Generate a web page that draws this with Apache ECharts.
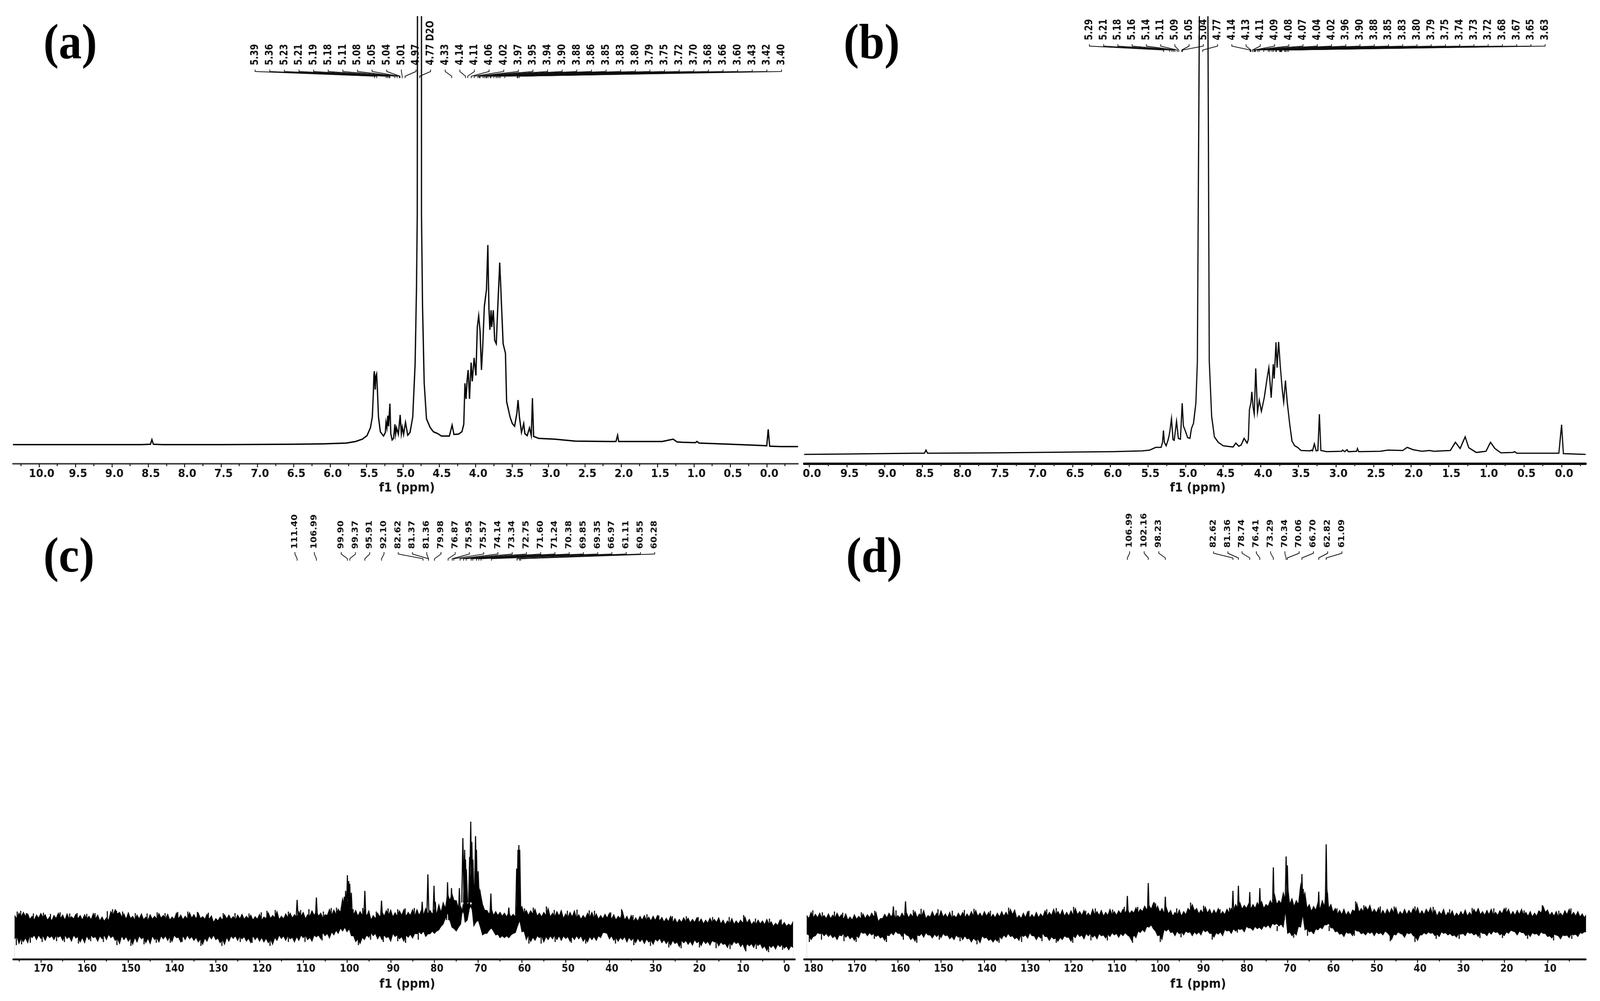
<!DOCTYPE html>
<html>
<head>
<meta charset="utf-8">
<style>html,body{margin:0;padding:0;background:#fff;overflow:hidden;width:100%;height:100%}#chart{width:4459px;height:2562px;transform-origin:0 0}</style>
<script src="https://cdn.jsdelivr.net/npm/echarts@6/dist/echarts.min.js"></script>
</head>
<body>
<div id="chart"></div>
<script>
// ---------- values (ppm, intensity) ----------
const aSpectrum = [[10.36,49],[9.5,49],[8.6,49],[8.47,50],[8.45,62],[8.43,50],[8.3,49],[7.5,49],[6.5,50],[6.09,51],[5.777,53],[5.651,57],[5.557,63],[5.494,72],[5.447,92],[5.421,120],[5.406,182],[5.399,226],[5.393,237],[5.381,190],[5.374,223],[5.362,230],[5.349,182],[5.336,120],[5.311,82],[5.267,71],[5.242,80],[5.233,106],[5.22,92],[5.208,123],[5.198,96],[5.179,154],[5.167,77],[5.148,61],[5.129,65],[5.11,101],[5.101,75],[5.088,92],[5.063,75],[5.038,125],[5.022,77],[5.009,94],[4.991,75],[4.965,106],[4.934,73],[4.903,80],[4.865,120],[4.833,254],[4.814,446],[4.803,637],[4.8,1200],[4.745,1200],[4.745,637],[4.73,398],[4.708,206],[4.676,115],[4.629,94],[4.582,82],[4.519,77],[4.472,71],[4.362,71],[4.324,99],[4.299,75],[4.236,76],[4.189,82],[4.164,101],[4.148,206],[4.132,166],[4.119,211],[4.104,240],[4.085,166],[4.063,259],[4.047,211],[4.022,271],[3.997,226],[3.978,350],[3.959,379],[3.94,340],[3.921,240],[3.903,302],[3.881,403],[3.852,446],[3.833,560],[3.818,398],[3.805,343],[3.789,393],[3.78,350],[3.758,393],[3.739,316],[3.717,307],[3.695,407],[3.67,515],[3.654,446],[3.623,307],[3.591,283],[3.575,159],[3.528,120],[3.497,103],[3.465,96],[3.434,130],[3.418,163],[3.399,120],[3.371,80],[3.34,103],[3.324,77],[3.292,72],[3.261,92],[3.236,72],[3.22,168],[3.204,70],[3.135,65],[2.915,63],[2.632,58],[2.15,57],[2.072,57],[2.05,73],[2.035,57],[1.437,57],[1.286,63],[1.233,56],[1.16,55],[0.98,54],[0.96,57],[0.93,53],[0.5,50],[0.1,47],[0.0,46],[-0.02,88],[-0.04,45],[-0.2,44],[-0.43,44]];

const bSpectrum = [[10.07,24],[9.5,25],[8.6,27],[8.47,27],[8.45,35],[8.43,27],[7.5,28],[7,29],[6.5,30],[5.969,31],[5.574,33],[5.475,35],[5.396,42],[5.324,42],[5.305,55],[5.293,85],[5.281,55],[5.257,46],[5.233,60],[5.218,72],[5.206,86],[5.186,116],[5.166,62],[5.15,60],[5.119,109],[5.095,65],[5.067,63],[5.044,155],[5.028,97],[5.0,83],[4.972,67],[4.941,65],[4.921,90],[4.893,104],[4.862,156],[4.842,262],[4.814,1200],[4.703,1200],[4.684,262],[4.652,121],[4.616,69],[4.565,55],[4.498,46],[4.367,43],[4.331,53],[4.292,45],[4.26,48],[4.221,65],[4.181,53],[4.165,62],[4.15,139],[4.13,156],[4.118,184],[4.102,146],[4.086,127],[4.066,244],[4.043,132],[4.019,163],[3.991,134],[3.952,170],[3.92,213],[3.892,246],[3.881,220],[3.861,169],[3.833,255],[3.821,218],[3.797,311],[3.782,246],[3.762,312],[3.742,255],[3.714,191],[3.695,158],[3.671,213],[3.647,156],[3.616,104],[3.584,58],[3.548,46],[3.509,42],[3.465,34],[3.339,33],[3.327,35],[3.311,33],[3.287,51],[3.263,33],[3.24,34],[3.22,127],[3.2,34],[3.121,31],[2.923,32],[2.911,35],[2.884,31],[2.852,36],[2.836,31],[2.725,32],[2.714,39],[2.698,31],[2.409,32],[2.31,35],[2.112,34],[2.053,42],[1.974,36],[1.855,32],[1.756,34],[1.697,32],[1.479,34],[1.412,55],[1.349,39],[1.282,69],[1.234,41],[1.135,29],[1.005,32],[0.945,55],[0.886,39],[0.807,28],[0.649,29],[0.621,31],[0.597,27],[0.036,27],[0.0,100],[-0.024,26],[-0.32,24]];

const cStartPpm = 176;
const cTop = [112,118,120,116,110,113,117,114,108,112,
118,113,116,109,115,112,114,110,117,113,
108,106,122,127,120,116,119,110,113,116,
108,114,110,117,112,115,108,118,113,110,
119,114,118,109,115,111,104,108,114,113,
109,113,115,110,113,109,115,108,119,112,
122,110,116,118,114,122,120,114,124,122,
118,114,128,126,128,155,150,128,125,122,
128,124,112,118,122,125,126,119,124,127,
120,127,127,125,130,125,128,140,145,168,
168,150,135,175,145,190,190,140,125,130,
122,120,118,120,115,145,135,125,124,128,
118,120,130,118,122,125,116,120,124,114,
112,118,120,116,112,115,118,114,110,122,
110,112,106,110,112,108,110,112,107,105,
110,104,102,106,105,102,106,103,100,105,
102,106,100,98,104,98,100,108,102,96,
100,98,102,96,92,100,94,90,96];
const cTopMid = [104,108,110,102,100,105,106,100,98,104,
104,100,102,103,104,100,102,101,103,98,
97,99,112,116,108,102,104,100,103,101,
100,102,103,105,103,100,102,104,101,103,
105,103,104,102,102,94,98,100,103,102,
100,103,102,103,100,102,100,104,104,106,
101,103,106,105,106,110,103,110,112,110,
104,112,112,114,120,130,125,114,110,112,
110,100,104,108,110,112,108,110,112,110,
112,110,112,114,116,115,115,120,130,150,
150,130,120,140,130,150,170,125,115,112,
112,110,108,108,108,125,115,112,115,110,
108,112,108,108,110,104,106,108,104,102,
104,106,104,102,103,105,102,100,104,100,
98,96,97,100,99,98,99,98,95,96,
94,92,94,95,93,94,94,90,92,93,
94,90,88,90,89,90,92,92,88,88,
90,88,88,84,86,86,84,85];
const cBottom = [52,40,45,42,55,50,53,48,55,50,
56,48,53,46,54,44,42,50,55,46,
52,50,55,48,40,50,46,38,44,52,
42,40,50,44,52,48,45,55,44,50,
52,48,44,38,46,52,50,42,38,46,
53,48,52,46,42,50,46,44,42,38,
48,53,48,52,44,48,55,50,46,57,
52,60,54,62,66,72,70,60,45,40,
50,56,60,52,50,55,46,58,52,46,
56,54,65,65,58,65,66,75,90,120,
82,72,90,95,130,85,100,62,66,80,
62,55,55,55,66,85,70,50,45,48,
55,44,50,52,50,48,53,46,50,52,
46,44,50,48,55,68,52,48,46,50,
44,48,42,45,40,44,38,46,42,40,
36,40,32,42,38,36,42,35,40,36,
44,34,38,30,36,40,32,25,34,30,
35,28,22,30,26,32,28,24,30];
const cBottomMid = [60,55,55,62,62,62,60,62,60,62,
60,62,58,62,58,56,60,62,58,60,
62,64,60,54,60,58,54,56,60,56,
54,60,56,60,60,58,62,56,60,62,
58,56,52,54,60,62,54,52,56,60,
60,60,58,54,60,58,56,54,52,56,
62,60,62,56,58,62,62,56,62,62,
68,66,70,74,80,82,78,60,52,56,
62,68,66,62,62,58,66,62,58,62,
64,66,70,72,65,72,72,84,105,100,
78,82,137,100,140,95,82,66,74,72,
64,60,60,62,68,100,72,62,56,60,
60,58,60,62,60,60,58,58,60,60,
54,58,58,60,68,66,60,56,56,58,
56,54,54,52,52,50,52,54,50,48,
48,44,48,48,46,50,46,48,46,48,
46,44,40,44,46,44,40,40,40,44,
40,34,36,36,38,38,34,34];
const cSpikes = [[111.4,152],[106.99,158],[100.6,160],[100.3,175],[99.9,215],[99.6,200],[99.37,193],[99,170],[95.91,175],[92.1,150],[82.8,147],[81.5,217],[80.1,188],[79.8,147],[77,197],[76.1,182],[74.3,182],[73.5,310,145],[73.1,280,145],[72.9,255,145],[72.7,230,145],[71.95,262,145],[71.7,352,145],[71.45,300,145],[71.2,255,145],[70.6,315,145],[70.4,280,145],[70,225,145],[69.6,178,130],[67.1,168],[63,132],[61.2,232],[60.9,280],[60.7,292],[60.5,280]];
const cUpWhiskers = [[175.4,122],[174.6,124],[173.3,118],[171.7,117],[169.4,119],[167.8,116],[165.6,120],[163.4,117],[161.7,118],[159.5,116],[157.6,118],[154.8,123],[153.6,128],[152.7,124],[151.3,122],[148.4,118],[145.7,117],[143.4,120],[141.6,118],[138.7,121],[136.4,122],[134.2,121],[131.7,119],[128.3,118],[125.6,118],[122.4,117],[119.6,120],[118.3,124],[116.4,126],[113.4,122],[110.6,126],[108.7,128],[105.4,122],[103.6,131],[102.4,132],[98.6,128],[96.4,131],[93.3,122],[90.6,130],[88.4,128],[86.7,130],[84.6,131],[59.4,130],[57.4,132],[54.4,135],[52.6,126],[49.6,124],[47.4,127],[44.6,125],[43.4,124],[39.7,120],[37.2,128],[34.6,113],[31.4,115],[28.7,112],[25.6,110],[22.4,110],[19.7,108],[16.4,108],[12.6,108],[9.3,113],[6.6,104],[3.4,104],[0.7,102]];
const cDownWhiskers = [[175.6,36],[174.4,38],[172.4,42],[169.7,44],[166.4,46],[164.6,44],[161.4,40],[158.6,46],[155.7,44],[152.6,36],[149.4,34],[146.4,38],[143.6,42],[140.4,42],[137.7,44],[133.4,34],[128.6,34],[124.4,44],[121.7,42],[117.6,34],[113.4,44],[109.6,44],[105.7,48],[97.4,36],[94.6,50],[91.7,44],[88.4,46],[86.6,42],[83.7,50],[58.4,40],[55.6,40],[52.4,44],[48.7,42],[45.4,40],[38.6,40],[34.4,36],[30.6,34],[26.4,30],[23.6,28],[19.4,30],[15.6,28],[12.4,26],[8.8,20],[6.4,26],[3.6,18],[0.4,24]];

const dStartPpm = 181;
const dTop = [112,120,115,118,112,116,113,118,114,116,
108,114,110,116,114,118,120,104,115,118,
120,112,118,120,116,122,116,125,112,122,
118,124,116,120,112,118,120,116,122,125,
118,122,120,115,118,122,120,128,126,112,
118,122,114,120,116,124,120,128,122,126,
120,124,130,122,125,118,128,122,125,120,
128,122,124,128,130,124,132,128,136,138,
143,136,130,132,125,120,126,122,130,140,
130,126,134,128,126,130,122,128,130,140,
145,138,142,140,145,148,140,150,165,150,
170,190,155,150,190,170,140,135,145,150,
190,140,130,125,128,122,126,143,130,135,
138,128,132,125,128,130,132,122,128,125,
130,132,124,128,132,126,122,128,120,124,
118,122,126,120,128,130,122,125,128,120,
124,130,128,122,125,128,120,122,118,124,
135,126,120,122,118,124,128,120,122,116,
115];
const dTopMid = [104,106,106,104,104,104,104,106,102,100,
100,102,103,104,106,108,96,104,106,108,
104,106,108,106,108,106,110,104,108,108,
108,108,106,104,106,108,106,108,110,110,
108,110,106,106,108,110,110,114,104,104,
106,106,106,106,108,110,112,112,112,110,
110,112,114,112,110,110,112,112,110,112,
112,112,116,118,116,118,118,122,126,128,
124,120,118,116,110,112,110,114,124,124,
116,118,118,114,116,114,114,118,124,130,
128,130,128,130,134,130,135,140,140,142,
150,140,135,140,150,130,122,125,128,135,
130,120,115,114,112,112,122,120,122,125,
118,118,114,114,116,118,112,114,114,116,
118,114,114,118,114,110,114,110,112,108,
110,112,110,112,118,114,112,114,112,112,
116,118,112,112,114,112,110,108,110,118,
120,112,110,108,110,114,112,110,108,106];
const dBottom = [65,50,60,65,60,58,55,50,60,56,
52,48,55,66,60,62,58,54,48,60,
62,66,58,62,50,46,60,56,62,54,
58,55,60,52,50,56,50,52,44,48,
42,54,48,44,46,52,56,58,52,48,
58,54,60,50,54,58,48,52,46,50,
56,46,55,58,52,60,56,52,60,54,
58,62,56,60,62,48,55,68,70,82,
78,60,50,72,68,60,65,62,68,60,
64,62,70,66,56,64,60,72,66,72,
76,70,80,74,78,76,82,80,88,85,
82,66,60,62,82,75,70,65,75,78,
88,80,70,64,58,66,60,72,65,62,
66,60,65,62,68,50,62,66,56,65,
60,48,62,64,66,60,58,66,62,60,
56,64,60,66,62,58,66,60,64,68,
62,60,66,72,62,68,60,58,64,60,
66,58,54,62,52,60,55,62,58,66,
70];
const dBottomMid = [62,58,68,68,66,64,60,62,66,62,
58,60,70,68,68,66,62,58,62,68,
72,66,68,60,56,62,66,68,62,64,
64,66,62,58,62,60,60,54,54,52,
60,56,52,52,58,62,66,60,56,64,
62,68,60,60,66,58,58,54,56,60,
56,60,66,62,66,66,62,66,62,64,
68,66,66,68,58,62,72,76,84,88,
72,62,76,78,70,72,70,72,70,70,
70,76,74,66,68,70,76,74,78,78,
78,84,80,84,82,86,88,92,92,90,
125,70,68,84,115,78,72,78,82,88,
92,80,72,66,70,68,76,72,68,70,
70,70,68,72,62,64,70,64,68,68,
58,62,68,70,68,64,70,68,66,62,
66,66,70,68,66,70,66,70,72,70,
66,70,74,70,72,68,66,68,66,70,
66,60,64,60,62,62,66,64,68,70];
const dSpikes = [[161,135],[158.2,148],[106.99,162],[102.16,195],[100.5,143],[98.23,160],[82.62,175],[81.36,188],[78.74,172],[76.41,182],[73.29,235],[71,163],[70.34,263,130],[70.06,240,130],[66.7,218,125],[66.4,180,125],[62.82,173],[61.09,294],[60.8,170]];
const dUpWhiskers = [[179.6,125],[177.4,120],[174.6,122],[172.7,119],[168.4,120],[165.3,124],[160.4,125],[156.4,126],[154.6,129],[150.7,128],[147.4,124],[144.6,126],[142.4,129],[138.6,124],[134.4,132],[129.7,124],[125.6,128],[123.4,131],[119.4,134],[116.6,124],[114.4,130],[110.4,127],[107.7,134],[104.6,134],[100.8,146],[95.6,130],[92.4,145],[89.4,137],[85.6,128],[83.4,132],[58.6,130],[54.3,148],[52.4,138],[48.6,135],[45.4,135],[40.6,135],[36.4,134],[32.6,128],[27.4,131],[22.4,130],[19.6,132],[15.4,125],[11.2,138],[7.4,124],[4.6,130]];
const dDownWhiskers = [[180.4,44],[177.6,50],[172.4,46],[169.6,44],[165.4,52],[162.6,44],[158.7,50],[155.6,42],[150.4,50],[145.6,46],[141.7,38],[136.6,42],[131.4,44],[126.7,46],[123.4,42],[119.6,42],[115.4,48],[111.6,48],[105.8,42],[99.4,44],[94.6,56],[87.4,50],[81.6,68],[72.4,72],[68.6,55],[65.4,60],[60.4,72],[54.6,60],[46.3,46],[40.6,44],[35.7,52],[30.4,52],[25.6,54],[20.4,54],[14.6,52],[8.6,48],[4.4,52]];

const aPeakLabels = ['5.39','5.36','5.23','5.21','5.19','5.18','5.11','5.08','5.05','5.04','5.01','4.97','4.77 D2O','4.33','4.14','4.11','4.06','4.02','3.97','3.95','3.94','3.90','3.88','3.86','3.85','3.83','3.80','3.79','3.75','3.72','3.70','3.68','3.66','3.60','3.43','3.42','3.40'];
const bPeakLabels = ['5.29','5.21','5.18','5.16','5.14','5.11','5.09','5.05','5.04','4.77','4.14','4.13','4.11','4.09','4.08','4.07','4.04','4.02','3.96','3.90','3.88','3.85','3.83','3.80','3.79','3.75','3.74','3.73','3.72','3.68','3.67','3.65','3.63'];
const cPeakLabels = ['111.40','106.99','99.90','99.37','95.91','92.10','82.62','81.37','81.36','79.98','76.87','75.95','75.57','74.14','73.34','72.75','71.60','71.24','70.38','69.85','69.35','66.97','61.11','60.55','60.28'];
const dPeakLabels = ['106.99','102.16','98.23','82.62','81.36','78.74','76.41','73.29','70.34','70.06','66.70','62.82','61.09'];

const aTickValues = [10,9.5,9,8.5,8,7.5,7,6.5,6,5.5,5,4.5,4,3.5,3,2.5,2,1.5,1,0.5,0];
const aMinorTicks = [10.25,9.75,9.25,8.75,8.25,7.75,7.25,6.75,6.25,5.75,5.25,4.75,4.25,3.75,3.25,2.75,2.25,1.75,1.25,0.75,0.25,-0.25];
const aTickLabels = ['10.0','9.5','9.0','8.5','8.0','7.5','7.0','6.5','6.0','5.5','5.0','4.5','4.0','3.5','3.0','2.5','2.0','1.5','1.0','0.5','0.0'];
const bTickLabels = ['0.0','9.5','9.0','8.5','8.0','7.5','7.0','6.5','6.0','5.5','5.0','4.5','4.0','3.5','3.0','2.5','2.0','1.5','1.0','0.5','0.0'];
const cTickValues = [170,160,150,140,130,120,110,100,90,80,70,60,50,40,30,20,10,0];
const cMinorTicks = [175,165,155,145,135,125,115,105,95,85,75,65,55,45,35,25,15,5];
const cTickLabels = ['170','160','150','140','130','120','110','100','90','80','70','60','50','40','30','20','10','0'];
const dTickValues = [180,170,160,150,140,130,120,110,100,90,80,70,60,50,40,30,20,10];
const dMinorTicks = [175,165,155,145,135,125,115,105,95,85,75,65,55,45,35,25,15,5];
const dTickLabels = ['180','170','160','150','140','130','120','110','100','90','80','70','60','50','40','30','20','10'];
const panelLetters = ['(a)','(b)','(c)','(d)'];
const axisTitle = 'f1 (ppm)';

// ---------- layout ----------
const FONT = 'DejaVu Sans';
function evenRuns(runs){ const o=[]; runs.forEach(r=>{for(let i=0;i<r[2];i++)o.push(r[0]+r[1]*i);}); return o; }
const layouts = [
 {letter:[121,116], name:[1134,1250], left:36,  width:2188, top:43,   bottom:1187, xMin:-0.43, xMax:10.36, axisW:4, axisC:'#444', tickFont:29, tickV:aTickValues, tickM:aMinorTicks, tickL:aTickLabels, peaks:aPeakLabels, labelX:evenRuns([[711,40.75,37]]), labelBottom:167, labelFont:22, labelStretch:1.4, lead:[178,183,195,200]},
 {letter:[2351,116],name:[3338,1250], left:2241,width:2178, top:43,   bottom:1187, xMin:-0.32, xMax:10.07, axisW:6, axisC:'#000', tickFont:29, tickV:aTickValues, tickM:aMinorTicks, tickL:bTickLabels, peaks:bPeakLabels, labelX:evenRuns([[3036,39.69,33]]), labelBottom:103, labelFont:22, labelStretch:1.4, lead:[113,118,128,133]},
 {letter:[121,1430],name:[1135,2520], left:37,  width:2178, top:2050, bottom:2455, xMin:-2.4,  xMax:176.3, axisW:5, axisC:'#222', tickFont:26, tickV:cTickValues, tickM:cMinorTicks, tickL:cTickLabels, peaks:cPeakLabels, labelX:evenRuns([[822,0,1],[876,0,1],[951,39.7,23]]), labelBottom:1405, labelFont:23, labelStretch:1, lead:[1413,1418,1430,1435]},
 {letter:[2358,1430],name:[3339,2520],left:2241,width:2178, top:2050, bottom:2455, xMin:1.2,   xMax:181.6, axisW:5, axisC:'#111', tickFont:26, tickV:dTickValues, tickM:dMinorTicks, tickL:dTickLabels, peaks:dPeakLabels, labelX:evenRuns([[3148,40.7,3],[3382,39.75,10]]), labelBottom:1402, labelFont:23, labelStretch:1, lead:[1411,1416,1428,1433]}
];

// alternate the typed tip values with the typed mid-ppm values
function envelope(start, tips, mids){
  const out=[];
  tips.forEach((v,i)=>{ out.push([start-i, v]); if(i<mids.length) out.push([start-i-0.5, mids[i]]); });
  return out;
}
function spikeLine(list, foot){
  const out=[];
  list.forEach(s=>{ const f=s[2]||foot; out.push([s[0]+0.25,f],[s[0],s[1]],[s[0]-0.25,f],[s[0],null]); });
  return out;
}
function whiskerLine(list, inner){
  const out=[];
  list.forEach(s=>{ out.push([s[0],inner],[s[0],s[1]],[s[0],null]); });
  return out;
}

const grid=[], xAxis=[], yAxis=[], series=[], graphicEls=[];
layouts.forEach((p,i)=>{
  const h=p.bottom-p.top, xi=i*2;
  grid.push({left:p.left, width:p.width, top:p.top, height:h, containLabel:false});
  yAxis.push({gridIndex:i, type:'value', min:0, max:h, show:false});
  const labelOf = v => { const k=p.tickV.indexOf(v); return k<0?'':p.tickL[k]; };
  xAxis.push({
    gridIndex:i, type:'value', inverse:true, position:'bottom', min:p.xMin, max:p.xMax, z:10,
    splitLine:{show:false},
    axisLine:{show:true, onZero:false, lineStyle:{color:p.axisC, width:p.axisW}},
    axisTick:{show:true, customValues:p.tickV, length:9, lineStyle:{color:'#222', width:3}},
    axisLabel:{show:true, customValues:p.tickV, formatter:labelOf, margin:12, padding:[0,0,0,14],
      fontFamily:FONT, fontWeight:'bold', fontSize:p.tickFont, color:'#111'}
  });
  xAxis.push({
    gridIndex:i, type:'value', inverse:true, position:'bottom', min:p.xMin, max:p.xMax, z:10,
    splitLine:{show:false},
    axisLine:{show:false, onZero:false},
    axisTick:{show:true, customValues:p.tickM, length:6, lineStyle:{color:'#222', width:3}},
    axisLabel:{show:false}
  });
  graphicEls.push({type:'text', x:p.letter[0], y:p.letter[1],
    style:{text:panelLetters[i], align:'left', verticalAlign:'middle', fontFamily:'Liberation Serif', fontWeight:'bold', fontSize:128, fill:'#000'}});
  graphicEls.push({type:'text', x:p.name[0], y:p.name[1],
    style:{text:axisTitle, align:'center', verticalAlign:'middle', fontFamily:FONT, fontWeight:'bold', fontSize:32, fill:'#111'}});

  // leaders and rotated peak labels: the foot of each leader comes from the axis scale
  series.push({
    type:'custom', coordinateSystem:'cartesian2d', xAxisIndex:xi, yAxisIndex:i, clip:false, silent:true, z:5,
    data:p.peaks.map(s=>[parseFloat(s),0]),
    renderItem:(params,api)=>{
      const k=params.dataIndex, px=api.coord([api.value(0),0])[0], lx=p.labelX[k], L=p.lead;
      return {type:'group', children:[
        {type:'polyline', shape:{points:[[lx,L[0]],[lx,L[1]],[px,L[2]],[px,L[3]]]},
         style:{stroke:'#111', lineWidth:2, fill:null}},
        {type:'text', x:lx, y:p.labelBottom, rotation:Math.PI/2, scaleY:p.labelStretch,
         style:{text:p.peaks[k], align:'left', verticalAlign:'middle', fontFamily:FONT, fontWeight:'bold', fontSize:p.labelFont, fill:'#111'}}
      ]};
    }
  });
});

const lineBase=(i,data,width)=>({type:'line', xAxisIndex:i*2, yAxisIndex:i, data, symbol:'none', showSymbol:false, silent:true, clip:true, animation:false,
  lineStyle:{color:'#000', width, join:'miter'}, connectNulls:false});
series.push(lineBase(0,aSpectrum,3.5));
series.push(lineBase(1,bSpectrum,3.2));
[[2,cStartPpm,cTop,cTopMid,cBottom,cBottomMid,cSpikes,cUpWhiskers,cDownWhiskers,80,70],
 [3,dStartPpm,dTop,dTopMid,dBottom,dBottomMid,dSpikes,dUpWhiskers,dDownWhiskers,90,85]].forEach(r=>{
  const [i,start,top,topMid,bot,botMid,spk,up,down,upInner,downInner]=r;
  series.push(Object.assign(lineBase(i,envelope(start,top,topMid),2),{areaStyle:{color:'#000',origin:'start',opacity:1}}));
  series.push(Object.assign(lineBase(i,envelope(start,bot,botMid),2),{areaStyle:{color:'#fff',origin:'start',opacity:1}}));
  series.push(lineBase(i,whiskerLine(up,upInner),3));
  series.push(lineBase(i,whiskerLine(down,downInner),3));
  series.push(lineBase(i,spikeLine(spk,100),3));
});

// the sandbox window may be narrower than the page: fit the full page into it
const el=document.getElementById('chart');
el.style.transform='scale('+Math.min(1,window.innerWidth/4459)+','+Math.min(1,window.innerHeight/2562)+')';
const chart=echarts.init(el,null,{renderer:'canvas',width:4459,height:2562});
chart.setOption({animation:false, backgroundColor:'#fff', tooltip:{show:false}, graphic:graphicEls, grid, xAxis, yAxis, series});
</script>
</body>
</html>
